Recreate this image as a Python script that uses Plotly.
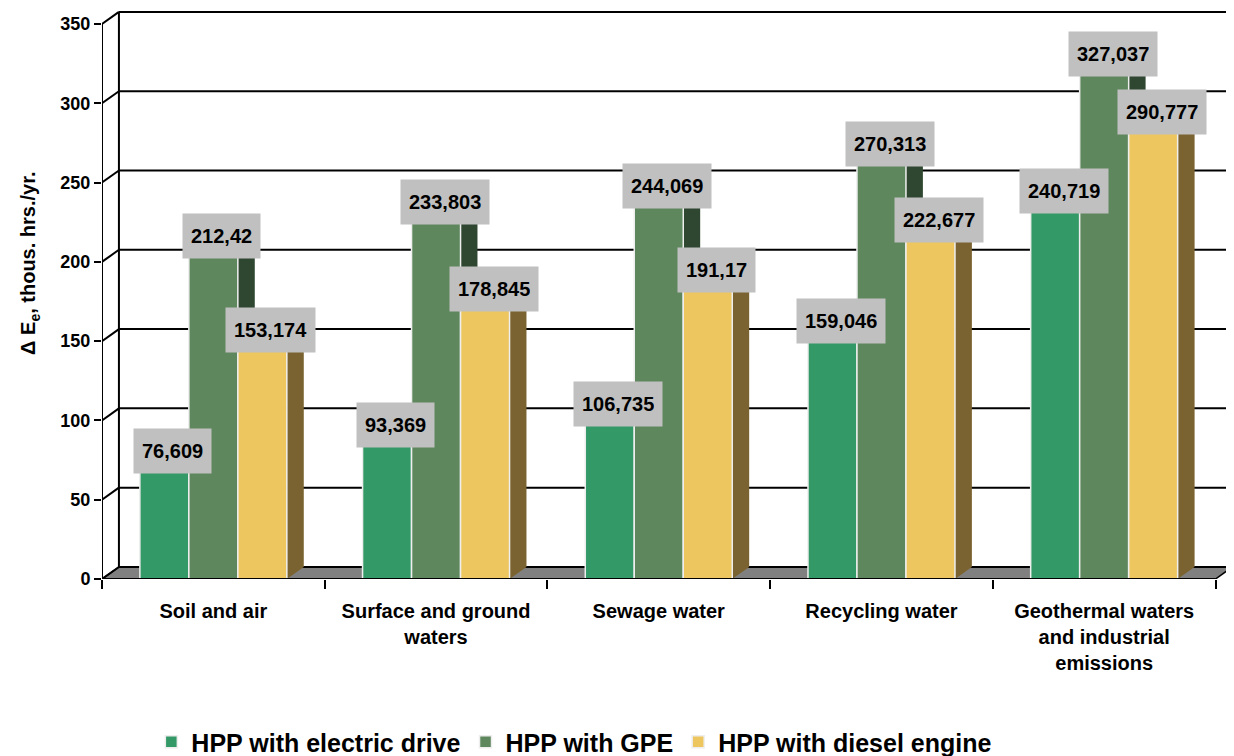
import plotly.graph_objects as go

categories = [
    "Soil and air",
    "Surface and ground<br>waters",
    "Sewage water",
    "Recycling water",
    "Geothermal waters<br>and industrial<br>emissions",
]
series_names = ["HPP with electric drive", "HPP with GPE", "HPP with diesel engine"]
electric_drive = [76.609, 93.369, 106.735, 159.046, 240.719]
gpe = [212.42, 233.803, 244.069, 270.313, 327.037]
diesel_engine = [153.174, 178.845, 191.17, 222.677, 290.777]
y_ticks = [0, 50, 100, 150, 200, 250, 300, 350]

front_colors = ["#339966", "#5E875E", "#EDC660"]
side_colors = ["#1F5C3D", "#2F4730", "#7A6330"]

# fake 3D: depth offset of the walls and bar sides, in data units
BAR_W = 0.22
DX = 0.076
DY = 7.6
X_RANGE = [-0.5, 4.574]
Y_RANGE = [0, 358.8]

font = "Arial, Liberation Sans, sans-serif"
values = [electric_drive, gpe, diesel_engine]

fig = go.Figure()

# side faces on the base axes so the front faces (overlay axes) sit above them
for s, vals in enumerate(values):
    xs, ys = [], []
    for c, v in enumerate(vals):
        xr = c + (s - 1) * BAR_W + BAR_W / 2
        xs += [xr, xr + DX, xr + DX, xr, xr, None]
        ys += [0, DY, v + DY, v, 0, None]
    fig.add_trace(
        go.Scatter(
            x=xs, y=ys, mode="lines", fill="toself", fillcolor=side_colors[s],
            line={"width": 0}, showlegend=False, hoverinfo="skip",
            xaxis="x", yaxis="y",
        )
    )

for s, vals in enumerate(values):
    fig.add_trace(
        go.Bar(
            x=list(range(len(categories))), y=vals, name=series_names[s],
            marker={"color": front_colors[s], "line": {"color": "#EEEEEE", "width": 1.5}},
            xaxis="x2", yaxis="y2",
        )
    )

shapes = []
line = {"color": "black", "width": 2}
x0, x1 = -0.5, 4.5
# floor
shapes.append(dict(
    type="path", xref="x", yref="y", layer="below",
    path=f"M{x0},0 L{x1},0 L{x1 + DX},{DY} L{x0 + DX},{DY} Z",
    fillcolor="#808080", line={"color": "black", "width": 1.5},
))
# back wall grid + side-wall diagonals
for v in y_ticks:
    shapes.append(dict(type="line", xref="x", yref="y", layer="below",
                       x0=x0, y0=v, x1=x0 + DX, y1=v + DY, line=line))
    shapes.append(dict(type="line", xref="x", yref="y", layer="below",
                       x0=x0 + DX, y0=v + DY, x1=x1 + DX, y1=v + DY, line=line))
for xv in (x0 + DX, x1 + DX):
    shapes.append(dict(type="line", xref="x", yref="y", layer="below",
                       x0=xv, y0=DY, x1=xv, y1=y_ticks[-1] + DY, line=line))
# front axis lines
shapes.append(dict(type="line", xref="x", yref="y", x0=x0, y0=0, x1=x0, y1=y_ticks[-1], line=line))
shapes.append(dict(type="line", xref="x", yref="y", x0=x0, y0=0, x1=x1, y1=0, line=line))

annotations = []
for s, vals in enumerate(values):
    for c, v in enumerate(vals):
        annotations.append(dict(
            x=c + (s - 1) * BAR_W + DX / 2, y=v + DY / 2, xref="x", yref="y",
            text=f"{v:g}".replace(".", ","), showarrow=False,
            xanchor="center", yanchor="middle",
            bgcolor="#C0C0C0", height=28, borderpad=8,
            font={"family": font, "size": 20, "color": "black", "weight": "bold"},
        ))
annotations.append(dict(
    text="Δ E<sub>e</sub>, thous. hrs./yr.", textangle=-90, showarrow=False,
    xref="paper", yref="paper", x=-0.064, y=0.555, xanchor="center", yanchor="middle",
    font={"family": font, "size": 20, "color": "black", "weight": "bold"},
))

# page body adds an 8px margin, so the figure is 8px smaller each way
fig.update_layout(
    width=1226, height=748,
    margin={"l": 94, "r": 2, "t": 2, "b": 177, "autoexpand": False},
    paper_bgcolor="white", plot_bgcolor="white",
    barmode="group", bargap=0.34, bargroupgap=0,
    shapes=shapes, annotations=annotations,
    showlegend=True,
    legend={
        "orientation": "h", "x": 0.418, "xanchor": "center", "y": -0.2865, "yanchor": "middle",
        "font": {"family": font, "size": 25, "color": "black", "weight": "bold"},
        "itemwidth": 30, "traceorder": "normal",
    },
    xaxis={
        "range": X_RANGE, "tickvals": [i - 0.5 for i in range(len(categories) + 1)],
        "ticks": "outside", "ticklen": 9, "tickwidth": 2, "tickcolor": "black",
        "showticklabels": False, "showgrid": False, "zeroline": False, "showline": False,
        "automargin": False,
    },
    yaxis={
        "range": Y_RANGE, "tickvals": y_ticks,
        "ticks": "outside", "ticklen": 7, "tickwidth": 2, "tickcolor": "black",
        "tickfont": {"family": font, "size": 18, "color": "black", "weight": "bold"},
        "showgrid": False, "zeroline": False, "showline": False, "automargin": False,
    },
    xaxis2={
        "range": X_RANGE, "overlaying": "x", "tickvals": list(range(len(categories))),
        "ticktext": categories, "ticks": "outside", "ticklen": 14,
        "tickcolor": "rgba(0,0,0,0)",
        "tickfont": {"family": font, "size": 20, "color": "black", "weight": "bold"},
        "showgrid": False, "zeroline": False, "showline": False, "automargin": False,
    },
    yaxis2={
        "range": Y_RANGE, "overlaying": "y", "showticklabels": False,
        "showgrid": False, "zeroline": False, "showline": False, "ticks": "",
        "automargin": False,
    },
)

fig.write_html("out.html")
